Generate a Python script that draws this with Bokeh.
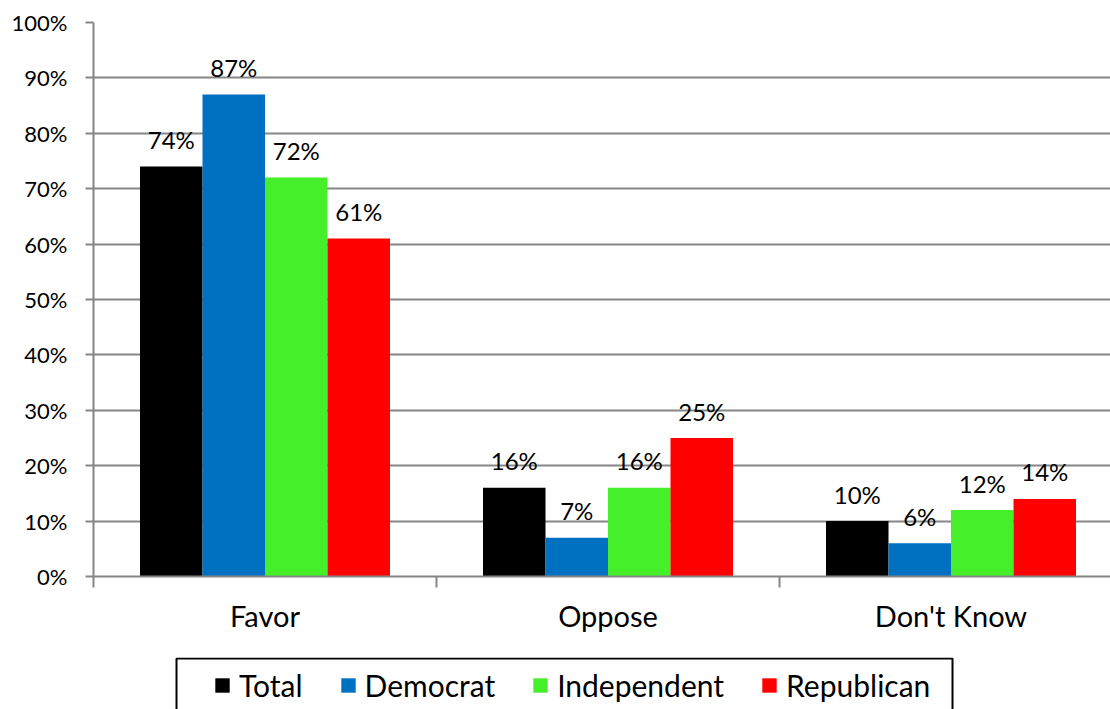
from bokeh.plotting import figure
from bokeh.models import Range1d, FixedTicker, ColumnDataSource, Legend, LegendItem
from bokeh.layouts import column
from bokeh.embed import file_html
from bokeh.resources import INLINE
from bokeh.core.properties import value

categories = ["Favor", "Oppose", "Don't Know"]
series = ["Total", "Democrat", "Independent", "Republican"]
colors = ["#000000", "#0070C0", "#45F02A", "#FF0000"]
total = [74, 16, 10]
democrat = [87, 7, 6]
independent = [72, 16, 12]
republican = [61, 25, 14]
y_ticks = [0, 10, 20, 30, 40, 50, 60, 70, 80, 90, 100]
y_tick_labels = [f"{t}%" for t in y_ticks]

values = [total, democrat, independent, republican]
FONT = "Lato"
GRID = "#868686"

p = figure(width=1110, height=657, output_backend="svg", toolbar_location=None,
           x_range=Range1d(0, 1017 / 343), y_range=Range1d(0, 100),
           min_border_left=93, min_border_right=0, min_border_top=22,
           min_border_bottom=81)
p.outline_line_color = None
p.background_fill_color = "white"

# y axis
p.yaxis.ticker = FixedTicker(ticks=y_ticks)
p.yaxis.major_label_overrides = {t: l for t, l in zip(y_ticks, y_tick_labels)}
p.yaxis.major_tick_out = 8
p.yaxis.major_tick_in = 0
p.yaxis.minor_tick_out = 0
p.yaxis.minor_tick_in = 0
p.yaxis.major_tick_line_color = GRID
p.yaxis.major_tick_line_width = 2
p.yaxis.axis_line_color = GRID
p.yaxis.axis_line_width = 2
p.yaxis.major_label_text_font = FONT
p.yaxis.major_label_text_font_size = "22px"
p.yaxis.major_label_text_color = "#000000"
p.yaxis.major_label_standoff = 18

# x axis
p.xaxis.ticker = FixedTicker(ticks=[i + 0.5 for i in range(len(categories))],
                             minor_ticks=list(range(len(categories) + 1)))
p.xaxis.major_label_overrides = {i + 0.5: c for i, c in enumerate(categories)}
p.xaxis.major_tick_out = 0
p.xaxis.major_tick_in = 0
p.xaxis.minor_tick_out = 11
p.xaxis.minor_tick_in = 0
p.xaxis.minor_tick_line_color = GRID
p.xaxis.minor_tick_line_width = 2
p.xaxis.axis_line_color = GRID
p.xaxis.axis_line_width = 2
p.xaxis.major_label_text_font = FONT
p.xaxis.major_label_text_font_size = "29px"
p.xaxis.major_label_text_color = "#000000"
p.xaxis.major_label_standoff = 10

p.xgrid.grid_line_color = None
p.ygrid.grid_line_color = GRID
p.ygrid.grid_line_width = 2

w = 62.5 / 343
for j, (name, vals, col) in enumerate(zip(series, values, colors)):
    xs = [i + 0.5 + (j - 1.5) * w for i in range(len(categories))]
    src = ColumnDataSource(dict(x=xs, top=vals, lab=[f"{v}%" for v in vals]))
    p.vbar(x="x", top="top", width=w, bottom=0, source=src,
           fill_color=col, line_color=None)
    p.text(x="x", y="top", text="lab", source=src, text_align="center",
           text_baseline="middle", y_offset=-27, text_font=value(FONT),
           text_font_size="24px", text_color="#000000")

# legend strip (separate figure below the chart; its frame is aligned with the chart's)
lg = figure(width=1110, height=52, output_backend="svg", toolbar_location=None,
            x_range=Range1d(93, 1110), y_range=Range1d(0, 52),
            min_border_left=93, min_border_right=0, min_border_top=0,
            min_border_bottom=0)
lg.axis.visible = False
lg.grid.visible = False
lg.outline_line_color = None
lg.quad(left=[176], right=[952], top=[51], bottom=[-20], fill_color=None,
        line_color="#000000", line_width=2)
dummies = []
for name, col in zip(series, colors):
    dummies.append(lg.quad(left=[-100], right=[-90], top=[-100], bottom=[-110],
                           fill_color=col, line_color=None))

legend = Legend(items=[LegendItem(label=n, renderers=[r]) for n, r in zip(series, dummies)],
                orientation="horizontal", location=(213 - 93, 6))
legend.border_line_color = None
legend.background_fill_color = None
legend.background_fill_alpha = 0
legend.label_text_font = FONT
legend.label_text_font_size = "30px"
legend.label_text_color = "#000000"
legend.glyph_width = 18
legend.glyph_height = 18
legend.label_standoff = 8
legend.spacing = 36
legend.padding = 0
legend.margin = 0
legend.label_height = 18
lg.add_layout(legend, "center")

layout = column(p, lg, spacing=0)
open("out.html", "w").write(file_html(layout, INLINE))
